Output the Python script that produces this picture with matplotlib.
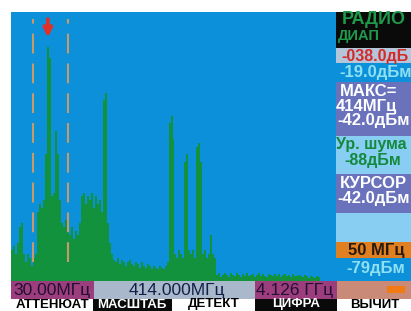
import matplotlib.pyplot as plt
import numpy as np
from matplotlib.patches import Rectangle

# spectrum trace, dBm, one value per screen bin from 30 MHz to 4.126 GHz
levels = (
    [-95, -94, -96, -93, -89, -88, -96, -98, -96, -97, -99, -97, -96,
     -85, -83, -84, -82, -70, -42, -45, -81, -80, -64, -70, -82,
     -88, -89, -87, -90, -91, -89, -92, -90, -91, -88,
     -81, -80, -83, -81, -82, -80, -84, -81, -83, -82, -85,
     -56, -54, -88, -93, -96]
    + [-97.5, -98, -97, -98.5, -97.5, -98, -99, -98, -97.5, -98.5,
       -99, -98, -98.5, -99.5, -98, -99, -99.5, -98.5, -99, -100,
       -99, -99.5, -100, -99, -99.5, -100, -99]
    + [-98, -62, -60, -66, -96, -97, -95, -96, -97, -72, -70, -95, -96,
       -95, -97, -68, -67, -72, -96, -95, -97, -96, -91, -96, -97]
    + [-101.5, -101, -102, -101.5, -101, -101.5, -102, -101, -101.5, -101.8,
       -101, -101.5, -102, -101.3, -101.6, -101, -101.8, -101.4, -101.2, -102,
       -101.5, -101, -101.7, -101.3, -101.6, -102, -101.2, -101.5, -101.8, -101.1,
       -101.6, -101.3, -101.9, -101.4, -101.2, -101.7, -101.5, -101.9, -101.3, -101.6,
       -101.8, -101.4, -101.7, -102, -101.5, -101.8, -102.1, -101.6, -101.9, -102.2,
       -101.8, -102]
    + [-103.5] * 8
)
f_start = 30.0      # MHz
f_stop = 4126.0     # MHz
window = [307, 748]  # MHz, dashed lines
ref_top = -33.0
ref_bottom = -103.0

panel_texts = [
    ("РАДИО", "#1f9a4a"), ("ДИАП", "#1f9a4a"), ("-038.0дБ", "#d42a2a"),
    ("-19.0дБм", "#8ee0f2"), ("МАКС=", "white"), ("414МГц", "white"),
    ("-42.0дБм", "white"), ("Ур. шума", "#13893d"), ("-88дБм", "#13893d"),
    ("КУРСОР", "white"), ("-42.0дБм", "white"), ("50 МГц", "#2a1a10"),
    ("-79дБм", "#8ee0f2"),
]
freq_labels = ["30.00МГц", "414.000МГц", "4.126 ГГц"]
soft_keys = ["АТТЕНЮАТ", "МАСШТАБ", "ДЕТЕКТ", "ЦИФРА", "ВЫЧИТ"]

BLUE = "#0b90d9"
GREEN = "#12923c"
FONT = ["Liberation Sans Narrow", "Liberation Sans", "DejaVu Sans"]

lv = np.array(levels, dtype=float)
edges = np.linspace(f_start, f_stop, len(lv) + 1)

fig = plt.figure(figsize=(4.11, 3.11), dpi=100)
fig.patch.set_facecolor("white")

ax = fig.add_axes([11 / 411, 30 / 311, 325 / 411, 269 / 311])
ax.set_facecolor(BLUE)
ax.fill_between(edges, np.append(lv, lv[-1]), ref_bottom - 10, step="post",
                color=GREEN, lw=0)
for fw in window:
    ax.axvline(fw, ymin=0.07, ymax=0.975, color="#c89a68", lw=1.5,
               dashes=(9.5, 4.8))
ipk = int(np.argmax(lv))
fpk = (edges[ipk] + edges[ipk + 1]) / 2
ax.annotate("", xy=(fpk, ref_top - 6.6), xytext=(fpk, ref_top - 1.8),
            arrowprops=dict(arrowstyle="-|>", color="#e03028", lw=2.6,
                            mutation_scale=13, shrinkA=0, shrinkB=0))
ax.set_xlim(f_start, f_stop)
ax.set_ylim(ref_bottom, ref_top)
ax.set_xticks([])
ax.set_yticks([])
for s in ax.spines.values():
    s.set_visible(False)

# overlay in screen pixels for the side and bottom panels
ov = fig.add_axes([0, 0, 1, 1])
ov.set_xlim(0, 411)
ov.set_ylim(311, 0)
ov.axis("off")

boxes = [
    (336, 12, 75, 36, "#0a0a0a"),
    (336, 48, 75, 15, "#b6c6da"),
    (336, 63, 75, 19, BLUE),
    (336, 82, 75, 54, "#6a72bc"),
    (336, 136, 75, 38, "#88cdf2"),
    (336, 174, 75, 39, "#6a72bc"),
    (336, 213, 75, 29, "#88cdf2"),
    (336, 242, 75, 16, "#e08020"),
    (336, 258, 75, 23, BLUE),
    (11, 281, 83, 18, "#9c3d7e"),
    (94, 281, 161, 18, "#a9b9cb"),
    (255, 281, 82, 18, "#9c3d7e"),
    (337, 281, 74, 18, "#c98a78"),
    (0, 299, 93, 12, "white"),
    (93, 299, 79, 12, "#0a0a0a"),
    (172, 299, 83, 12, "white"),
    (255, 299, 82, 12, "#0a0a0a"),
    (337, 299, 74, 12, "white"),
]
for x, y, w, h, c in boxes:
    ov.add_patch(Rectangle((x, y), w, h, color=c, lw=0))
ov.add_patch(Rectangle((387, 286), 18, 7, color="#f27a12", lw=0))

pos = [(374, 20, 13), (359, 36, 10.5), (375, 56, 11.5), (376, 72, 12),
       (369, 92, 12), (366, 106, 12), (374, 120, 12), (371, 145, 11.5),
       (373, 161, 11.5), (373, 184, 12), (374, 199, 12), (376, 250, 12),
       (376, 268, 12)]
for (txt, c), (x, y, fs) in zip(panel_texts, pos):
    ov.text(x, y, txt, color=c, fontsize=fs, fontweight="bold", family=FONT,
            ha="center", va="center")

for txt, x, c in zip(freq_labels, [52, 177, 295], ["#221030", "#14204a", "#221030"]):
    ov.text(x, 290.5, txt, color=c, fontsize=12.5, family=FONT,
            ha="center", va="center")

for txt, x in zip(soft_keys, [52, 132, 214, 296, 375]):
    col = "white" if txt in ("МАСШТАБ", "ЦИФРА") else "black"
    ov.text(x, 304.5, txt, color=col, fontsize=9.5, fontweight="bold",
            family=FONT, ha="center", va="center")

fig.savefig("out.png", dpi=100)
